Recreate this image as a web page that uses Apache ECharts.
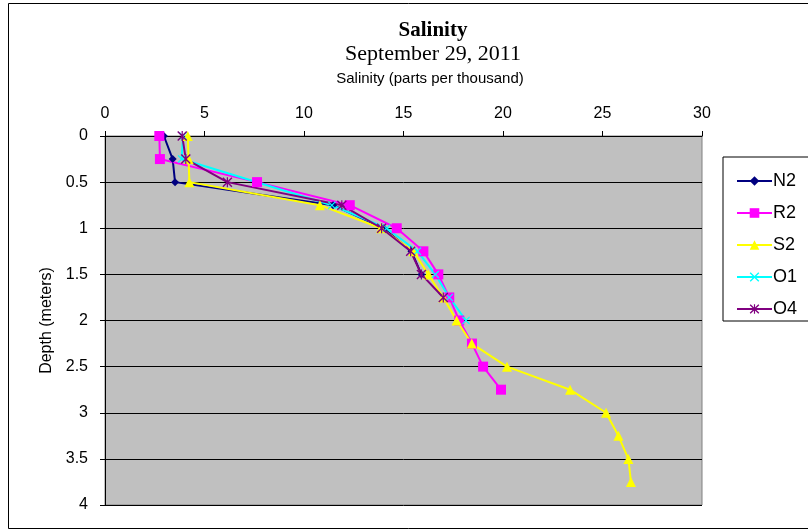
<!DOCTYPE html>
<html>
<head>
<meta charset="utf-8">
<script src="https://cdn.jsdelivr.net/npm/echarts@6/dist/echarts.min.js"></script>
<style>
html,body{margin:0;padding:0;background:#fff;}
#chart{width:808px;height:531px;}
</style>
</head>
<body>
<div id="chart"></div>
<script>
// Depth (m) for each measurement step
const depths = [0, 0.25, 0.5, 0.75, 1, 1.25, 1.5, 1.75, 2, 2.25, 2.5, 2.75, 3, 3.25, 3.5, 3.75];
// Salinity (ppt) per station, from the surface downward (null = no visible point)
const N2 = [2.96, 3.40, 3.52, 11.46, 14.0, 15.4, 15.9];
const R2 = [2.73, 2.76, 7.64, 12.3, 14.66, 16.0, 16.75, 17.3, 17.8, 18.44, 19.0, 19.9];
const S2 = [4.16, 4.2, 4.24, 10.8, 13.87, 15.5, 16.25, 17.0, 17.67, 18.43, 20.2, 23.37, 25.18, 25.8, 26.3, 26.43];
const O1 = [3.92, 3.85, null, 11.4, 14.15, 15.7, 16.6, 17.3, 18.14];
const O4 = [3.88, 4.06, 6.15, 11.9, 13.9, 15.36, 15.9, 17.0];

const seriesNames = ['N2', 'R2', 'S2', 'O1', 'O4'];
const seriesValues = [N2, R2, S2, O1, O4];
const colors = ['#000080', '#ff00ff', '#ffff00', '#00ffff', '#800080'];
const X_PATH = 'path://M0,1L1,0L5,4L9,0L10,1L6,5L10,9L9,10L5,6L1,10L0,9L4,5Z';
const STAR_PATH = 'path://M0,1L1,0L5,4L9,0L10,1L6,5L10,9L9,10L5,6L1,10L0,9L4,5Z M4.4,0L5.6,0L5.6,10L4.4,10Z';
const symbols = ['diamond', 'rect', 'triangle', X_PATH, STAR_PATH];
const symbolSizes = [8, 10, 10, 8, 10];

const chart = echarts.init(document.getElementById('chart'));

const series = seriesNames.map((name, i) => ({
  name: name,
  type: 'line',
  data: seriesValues[i].map((v, j) => [v, depths[j]]).filter(p => p[0] !== null),
  symbol: symbols[i],
  symbolSize: symbolSizes[i],
  showAllSymbol: true,
  color: colors[i],
  lineStyle: { width: 2, color: colors[i] },
  itemStyle: { color: colors[i] },
  emphasis: { disabled: true },
  animation: false
}));

chart.setOption({
  animation: false,
  backgroundColor: '#ffffff',
  title: [
    { text: 'Salinity', left: 428, top: 15, textAlign: 'center',
      textStyle: { fontFamily: 'Liberation Serif', fontWeight: 'bold', fontSize: 21, color: '#000' } },
    { text: 'September 29, 2011', left: 428, top: 38, textAlign: 'center',
      textStyle: { fontFamily: 'Liberation Serif', fontWeight: 'normal', fontSize: 22, color: '#000' } },
    { text: 'Salinity (parts per thousand)', left: 425, top: 66, textAlign: 'center',
      textStyle: { fontFamily: 'Liberation Sans', fontWeight: 'normal', fontSize: 15, color: '#000' } }
  ],
  legend: {
    data: seriesNames,
    orient: 'vertical',
    left: 723,
    top: 157,
    itemWidth: 35,
    itemHeight: 12,
    itemGap: 14,
    padding: [15, 60, 3, 13],
    borderColor: '#000',
    borderWidth: 1,
    backgroundColor: '#fff',
    textStyle: { fontFamily: 'Liberation Sans', fontSize: 18, color: '#000', padding: [0, 0, 0, -4] },
    selectedMode: false
  },
  grid: {
    left: 105, top: 136, width: 597, height: 369,
    show: true, backgroundColor: '#c0c0c0', borderColor: '#808080', borderWidth: 1,
    containLabel: false, outerBoundsMode: 'none'
  },
  xAxis: {
    type: 'value', position: 'top', min: 0, max: 30, interval: 5,
    axisLine: { show: true, lineStyle: { color: '#000', width: 1 } },
    axisTick: { show: true, inside: false, length: 5, lineStyle: { color: '#000' } },
    axisLabel: { margin: 14, fontFamily: 'Liberation Sans', fontSize: 16, color: '#000' },
    splitLine: { show: false }
  },
  yAxis: {
    type: 'value', inverse: true, min: 0, max: 4, interval: 0.5,
    name: 'Depth (meters)', nameLocation: 'middle', nameGap: 50, nameRotate: 90,
    nameTextStyle: { fontFamily: 'Liberation Sans', fontSize: 16, color: '#000' },
    axisLine: { show: true, lineStyle: { color: '#000', width: 1 } },
    axisTick: { show: true, inside: false, length: 5, lineStyle: { color: '#000' } },
    axisLabel: { margin: 17, fontFamily: 'Liberation Sans', fontSize: 16, color: '#000' },
    splitLine: { show: true, lineStyle: { color: '#000', width: 1 } }
  },
  graphic: [
    { type: 'rect', silent: true, z: -10,
      shape: { x: 8.5, y: 3.5, width: 820, height: 525 },
      style: { fill: 'none', stroke: '#000', lineWidth: 1 } }
  ],
  series: series
});
</script>
</body>
</html>
